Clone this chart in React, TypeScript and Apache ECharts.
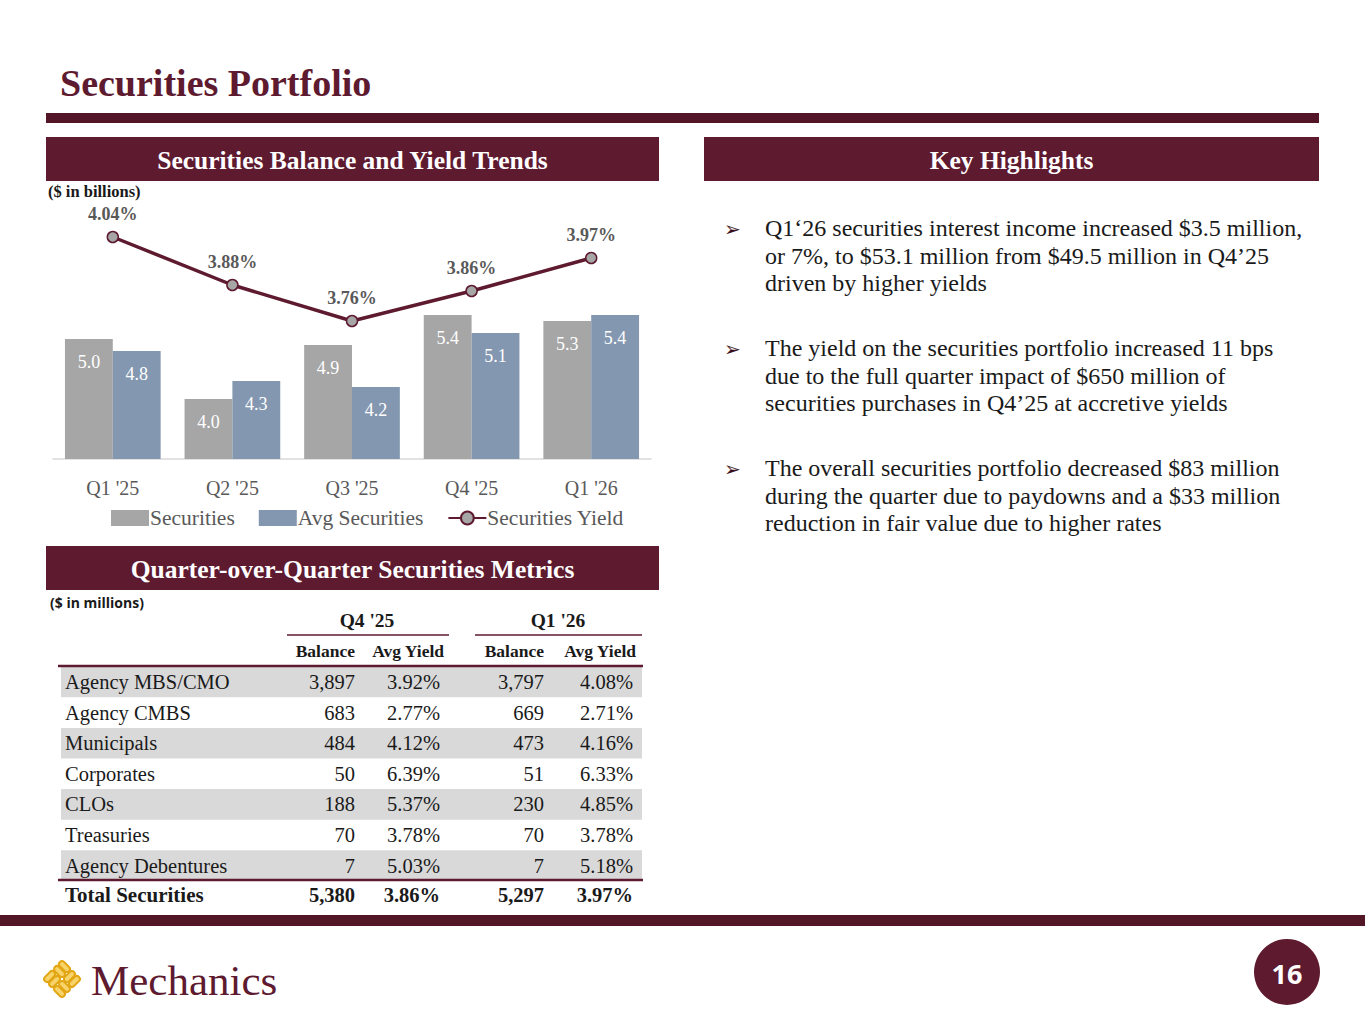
import React, { useEffect, useRef } from "react";
import * as echarts from "echarts";

// ---- Chart data ($ in billions, yield in %) ----
const quarters = ["Q1 '25", "Q2 '25", "Q3 '25", "Q4 '25", "Q1 '26"];
const securities = [5.0, 4.0, 4.9, 5.4, 5.3];
const avgSecurities = [4.8, 4.3, 4.2, 5.1, 5.4];
const securitiesYield = [4.04, 3.88, 3.76, 3.86, 3.97];

// ---- Table data ($ in millions) ----
const rowLabels = [
  "Agency MBS/CMO",
  "Agency CMBS",
  "Municipals",
  "Corporates",
  "CLOs",
  "Treasuries",
  "Agency Debentures",
];
const q4Balance = [3897, 683, 484, 50, 188, 70, 7];
const q4Yield = [3.92, 2.77, 4.12, 6.39, 5.37, 3.78, 5.03];
const q1Balance = [3797, 669, 473, 51, 230, 70, 7];
const q1Yield = [4.08, 2.71, 4.16, 6.33, 4.85, 3.78, 5.18];
const totalRow = { label: "Total Securities", q4Balance: 5380, q4Yield: 3.86, q1Balance: 5297, q1Yield: 3.97 };

// ---- Highlights ----
const highlights = [
  [
    "Q1‘26 securities interest income increased $3.5 million,",
    "or 7%, to $53.1 million from $49.5 million in Q4’25",
    "driven by higher yields",
  ],
  [
    "The yield on the securities portfolio increased 11 bps",
    "due to the full quarter impact of $650 million of",
    "securities purchases in Q4’25 at accretive yields",
  ],
  [
    "The overall securities portfolio decreased $83 million",
    "during the quarter due to paydowns and a $33 million",
    "reduction in fair value due to higher rates",
  ],
];

const MAROON = "#5e1a2f";
const DARK_MAROON = "#521626";
const SERIF = "'Liberation Serif', 'DejaVu Serif', serif";
const SANS = "'Open Sans', 'Liberation Sans', sans-serif";
const GRAY_TEXT = "#595959";

const fmtInt = (v: number) => v.toLocaleString("en-US");
const fmtPct = (v: number) => v.toFixed(2) + "%";

function txt(
  text: string,
  x: number,
  y: number,
  size: number,
  opts: { weight?: string; fill?: string; align?: string; family?: string } = {}
) {
  const align = opts.align || "left";
  return {
    type: "text",
    x,
    y,
    silent: true,
    z: 10,
    style: {
      text,
      fill: opts.fill || "#1a1a1a",
      fontSize: size,
      fontFamily: opts.family || SERIF,
      fontWeight: opts.weight || "normal",
      align,
      textAlign: align,
      verticalAlign: "middle",
      textVerticalAlign: "middle",
    },
  };
}

function buildGraphics() {
  const g: any[] = [];

  // Title and rules
  g.push(txt("Securities Portfolio", 60, 83, 38, { weight: "bold", fill: MAROON }));
  g.push({ type: "rect", shape: { x: 46, y: 113, width: 1273, height: 10 }, style: { fill: DARK_MAROON } });

  // Section headers
  const header = (label: string, x: number, y: number, w: number) => {
    g.push({ type: "rect", shape: { x, y, width: w, height: 44 }, style: { fill: MAROON } });
    g.push(txt(label, x + w / 2, y + 23, 25.5, { weight: "bold", fill: "#ffffff", align: "center" }));
  };
  header("Securities Balance and Yield Trends", 46, 137, 613);
  header("Key Highlights", 704, 137, 615);
  header("Quarter-over-Quarter Securities Metrics", 46, 546, 613);

  g.push(txt("($ in billions)", 48, 191, 16.5, { weight: "bold" }));
  g.push(txt("($ in millions)", 50, 602, 14, { weight: "bold", family: SANS }));

  // Key highlights bullets
  const blockTop = [228, 348, 468];
  highlights.forEach((lines, bi) => {
    g.push(txt("➢", 724, blockTop[bi] + 1, 20, { fill: "#3a1020", family: "'DejaVu Sans', sans-serif" }));
    lines.forEach((line, li) => {
      g.push(txt(line, 765, blockTop[bi] + li * 27.5, 24, { fill: "#1a1a1a" }));
    });
  });

  // Table
  const colRight = [355, 440, 544, 633];
  const rowStep = 30.6;
  const firstRowCenter = 682;
  g.push(txt("Q4 '25", 367, 620, 19.5, { weight: "bold", align: "center" }));
  g.push(txt("Q1 '26", 558, 620, 19.5, { weight: "bold", align: "center" }));
  g.push({ type: "line", shape: { x1: 287, y1: 635, x2: 449, y2: 635 }, style: { stroke: MAROON, lineWidth: 1.5 } });
  g.push({ type: "line", shape: { x1: 475, y1: 635, x2: 642, y2: 635 }, style: { stroke: MAROON, lineWidth: 1.5 } });
  const subHeads = ["Balance", "Avg Yield", "Balance", "Avg Yield"];
  const subRight = [355, 444, 544, 636];
  subHeads.forEach((s, i) => g.push(txt(s, subRight[i], 651, 17.5, { weight: "bold", align: "right" })));

  rowLabels.forEach((label, i) => {
    const cy = firstRowCenter + i * rowStep;
    if (i % 2 === 0) {
      g.push({
        type: "rect",
        z: 1,
        shape: { x: 61, y: cy - rowStep / 2, width: 581, height: rowStep },
        style: { fill: "#d9d9d9" },
      });
    }
    g.push(txt(label, 65, cy, 20.5));
    g.push(txt(fmtInt(q4Balance[i]), colRight[0], cy, 20.5, { align: "right" }));
    g.push(txt(fmtPct(q4Yield[i]), colRight[1], cy, 20.5, { align: "right" }));
    g.push(txt(fmtInt(q1Balance[i]), colRight[2], cy, 20.5, { align: "right" }));
    g.push(txt(fmtPct(q1Yield[i]), colRight[3], cy, 20.5, { align: "right" }));
  });
  g.push({ type: "line", z: 5, shape: { x1: 58, y1: 666, x2: 643, y2: 666 }, style: { stroke: MAROON, lineWidth: 2.5 } });
  g.push({ type: "line", z: 5, shape: { x1: 58, y1: 880, x2: 643, y2: 880 }, style: { stroke: MAROON, lineWidth: 2.5 } });
  const ty = 895;
  g.push(txt(totalRow.label, 65, ty, 21, { weight: "bold" }));
  g.push(txt(fmtInt(totalRow.q4Balance), colRight[0], ty, 20.5, { weight: "bold", align: "right" }));
  g.push(txt(fmtPct(totalRow.q4Yield), colRight[1], ty, 20.5, { weight: "bold", align: "right" }));
  g.push(txt(fmtInt(totalRow.q1Balance), colRight[2], ty, 20.5, { weight: "bold", align: "right" }));
  g.push(txt(fmtPct(totalRow.q1Yield), colRight[3], ty, 20.5, { weight: "bold", align: "right" }));

  // Footer band
  g.push({ type: "rect", shape: { x: 0, y: 915, width: 1365, height: 11 }, style: { fill: DARK_MAROON } });

  // Logo mark: woven diamond
  const strips: any[] = [];
  const cell = 14;
  for (let r = 0; r < 2; r++) {
    for (let c = 0; c < 2; c++) {
      const horiz = (r + c) % 2 === 0;
      for (let k = 0; k < 2; k++) {
        const off = 0.5 + k * 7;
        const x0 = -cell + c * cell;
        const y0 = -cell + r * cell;
        strips.push({
          type: "rect",
          shape: horiz
            ? { x: x0 + 0.5, y: y0 + off, width: cell - 1, height: 6, r: 3 }
            : { x: x0 + off, y: y0 + 0.5, width: 6, height: cell - 1, r: 3 },
          style: { fill: "#f7d46a", stroke: "#e3a614", lineWidth: 2 },
        });
      }
    }
  }
  g.push({ type: "group", x: 62, y: 979, rotation: Math.PI / 4, children: strips });
  g.push(txt("Mechanics", 91, 980, 43, { fill: MAROON }));

  // Page number
  g.push({ type: "circle", shape: { cx: 1287, cy: 972, r: 33 }, style: { fill: MAROON } });
  g.push(txt("16", 1287, 973, 27, { weight: "bold", fill: "#ffffff", align: "center", family: SANS }));

  return g;
}

export default function App() {
  const ref = useRef<HTMLDivElement>(null);

  useEffect(() => {
    if (!ref.current) return;
    const chart = echarts.init(ref.current, undefined, { renderer: "svg" });
    chart.setOption({
      animation: false,
      backgroundColor: "#ffffff",
      textStyle: { fontFamily: SERIF },
      grid: { left: 53, right: 1365 - 651, top: 219, bottom: 1024 - 459, containLabel: false },
      legend: {
        left: 106,
        top: 502,
        itemWidth: 38,
        itemHeight: 16,
        itemGap: 24,
        textStyle: { fontSize: 21.5, color: GRAY_TEXT, fontFamily: SERIF, padding: [0, 0, 0, -4] },
        data: [
          { name: "Securities", icon: "rect" },
          { name: "Avg Securities", icon: "rect" },
          { name: "Securities Yield" },
        ],
      },
      xAxis: {
        type: "category",
        data: quarters,
        axisTick: { show: false },
        axisLine: { lineStyle: { color: "#d9d9d9", width: 1.5 } },
        axisLabel: { fontSize: 20, color: GRAY_TEXT, fontFamily: SERIF, margin: 19 },
      },
      yAxis: [
        { type: "value", min: 3, max: 7, show: false },
        { type: "value", min: 3.3, max: 4.1, show: false },
      ],
      series: [
        {
          name: "Securities",
          type: "bar",
          data: securities,
          barGap: "0%",
          barCategoryGap: "20%",
          itemStyle: { color: "#a6a6a6" },
          label: {
            show: true,
            position: "insideTop",
            distance: 14,
            color: "#ffffff",
            fontSize: 18,
            fontFamily: SERIF,
            formatter: (p: any) => p.value.toFixed(1),
          },
        },
        {
          name: "Avg Securities",
          type: "bar",
          data: avgSecurities,
          itemStyle: { color: "#8497b0" },
          label: {
            show: true,
            position: "insideTop",
            distance: 14,
            color: "#ffffff",
            fontSize: 18,
            fontFamily: SERIF,
            formatter: (p: any) => p.value.toFixed(1),
          },
        },
        {
          name: "Securities Yield",
          type: "line",
          yAxisIndex: 1,
          data: securitiesYield,
          z: 5,
          symbol: "circle",
          symbolSize: 11,
          lineStyle: { color: MAROON, width: 3.5 },
          itemStyle: { color: "#a6a6a6", borderColor: MAROON, borderWidth: 1.5 },
          label: {
            show: true,
            position: "top",
            distance: 8,
            color: GRAY_TEXT,
            fontSize: 18,
            fontWeight: "bold",
            fontFamily: SERIF,
            formatter: (p: any) => p.value.toFixed(2) + "%",
          },
        },
      ],
      graphic: buildGraphics(),
    });
    return () => chart.dispose();
  }, []);

  return (
    <div
      ref={ref}
      style={{ position: "absolute", left: 0, top: 0, width: 1365, height: 1024, background: "#fff" }}
    />
  );
}
